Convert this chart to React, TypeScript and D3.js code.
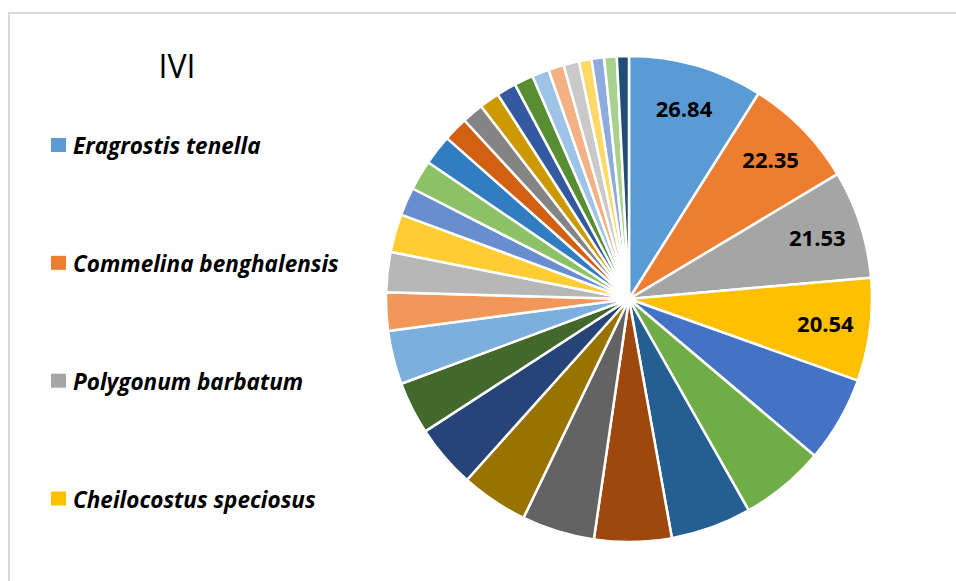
import React from "react";
import * as d3 from "d3";

const title = "IVI";
const legendNames = [
  "Eragrostis tenella",
  "Commelina benghalensis",
  "Polygonum barbatum",
  "Cheilocostus speciosus",
];
const ivi = [
  26.84, 22.35, 21.53, 20.54, 17.1, 16.9, 16.1, 15.4, 14.5, 13.4, 12.6, 10.5,
  10.7, 7.6, 8.0, 7.6, 5.6, 6.0, 6.0, 4.9, 4.3, 4.0, 3.9, 3.8, 3.4, 3.1, 3.1,
  2.5, 2.5, 2.5, 2.4,
];
const labelCount = 4;
const palette = [
  "#5B9BD5", "#ED7D31", "#A5A5A5", "#FFC000", "#4472C4", "#70AD47",
  "#255E91", "#9E480E", "#636363", "#997300", "#264478", "#43682B",
  "#7CAFDD", "#F1975A", "#B7B7B7", "#FFCD33", "#698ED0", "#8CC168",
  "#327DC2", "#D26012", "#848484", "#CC9A00", "#335AA1", "#588E32",
  "#9DC3E6", "#F4B183", "#C9C9C9", "#FFD966", "#8FAADC", "#A9D18E",
  "#1F4E79",
];

const W = 956;
const H = 581;
const cx = 629;
const cy = 299;
const R = 243;

export default function App() {
  const pie = d3.pie<number>().sort(null).value((d) => d)(ivi);
  const arc = d3.arc<d3.PieArcDatum<number>>().innerRadius(0).outerRadius(R);
  const labelArc = d3
    .arc<d3.PieArcDatum<number>>()
    .innerRadius(198 * 2 - R)
    .outerRadius(R);
  const legendY = d3
    .scalePoint<number>()
    .domain(d3.range(legendNames.length))
    .range([145, 498.5]);

  return (
    <div style={{ position: "absolute", left: 0, top: 0 }}>
      <svg width={W} height={H} style={{ display: "block" }}>
        <rect x={0} y={0} width={W} height={H} fill="#fff" />
        <line x1={8} y1={13} x2={W} y2={13} stroke="#D9D9D9" strokeWidth={2} />
        <line x1={9} y1={13} x2={9} y2={H} stroke="#D9D9D9" strokeWidth={2} />
        <text
          x={177}
          y={78}
          textAnchor="middle"
          fontFamily="'Open Sans', sans-serif"
          fontSize={32}
          fill="#000"
        >
          {title}
        </text>
        <g transform={`translate(${cx},${cy})`}>
          {pie.map((p, i) => (
            <path
              key={i}
              d={arc(p) || ""}
              fill={palette[i % palette.length]}
              stroke="#fff"
              strokeWidth={2.5}
              strokeLinejoin="round"
            />
          ))}
          {pie.slice(0, labelCount).map((p, i) => {
            const [x, y] = labelArc.centroid(p);
            return (
              <text
                key={i}
                x={x}
                y={y}
                dy="0.35em"
                textAnchor="middle"
                fontFamily="'Open Sans', sans-serif"
                fontWeight={700}
                fontSize={22}
                fill="#000"
              >
                {ivi[i].toFixed(2)}
              </text>
            );
          })}
        </g>
        {legendNames.map((n, i) => (
          <g key={n} transform={`translate(51,${legendY(i)})`}>
            <rect x={0} y={-7} width={15} height={14} fill={palette[i]} />
            <text
              x={22}
              y={9}
              fontFamily="'Open Sans', sans-serif"
              fontWeight={700}
              fontStyle="italic"
              fontSize={22.5}
              fill="#000"
            >
              {n}
            </text>
          </g>
        ))}
      </svg>
    </div>
  );
}
